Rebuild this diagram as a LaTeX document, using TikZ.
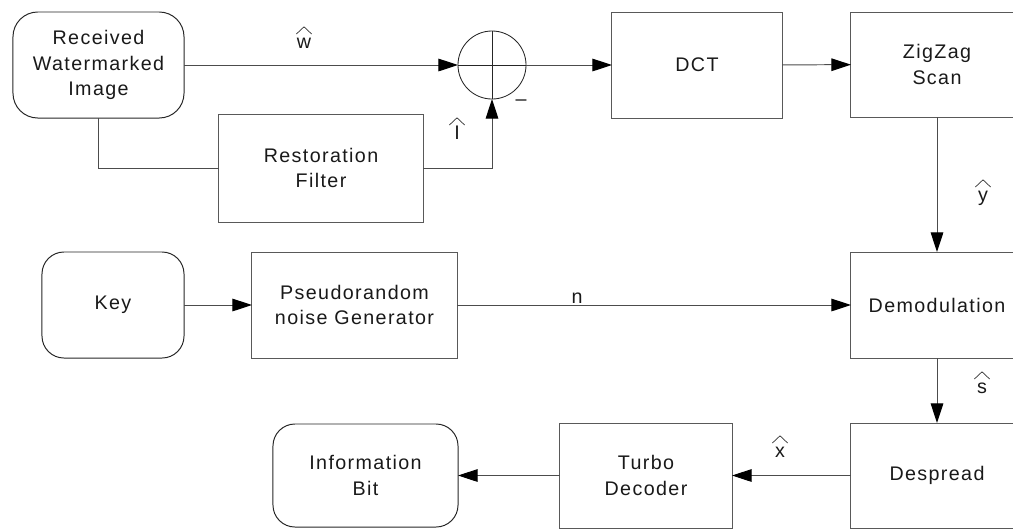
\documentclass[tikz,border=0pt]{standalone}
\usepackage{fontspec}
\setmainfont{Liberation Sans}[LetterSpace=7]
\usetikzlibrary{arrows.meta}

\tikzset{
  blk/.style={draw=black!65, line width=0.7pt, align=center, inner sep=0pt,
              outer sep=0pt, minimum height=2.65cm, text=black!90,
              font=\fontsize{14}{18.4}\selectfont},
  term/.style={blk, draw=black!85, rounded corners=0.55cm},
  sumnode/.style={circle, draw=black!85, line width=0.6pt, minimum size=1.7cm,
                  inner sep=0pt, outer sep=0pt},
  conn/.style={draw=black!70, line width=0.7pt},
  arr/.style={conn, -{Triangle[length=14pt,width=9pt,black]}},
  sym/.style={font=\fontsize{14}{16}\selectfont, text=black!90, inner sep=0pt,
              anchor=base},
  hatline/.style={draw=black!80, line width=0.5pt},
}

% caret drawn above a label letter
\newcommand\hatover[1]{%
  \draw[hatline] ([shift={(-0.19cm,0.35cm)}]#1.base)
    -- ([shift={(0cm,0.53cm)}]#1.base)
    -- ([shift={(0.19cm,0.35cm)}]#1.base);}

\begin{document}
\begin{tikzpicture}[x=0.025cm, y=-0.025cm]
\useasboundingbox (0,0) rectangle (1013,529);
\clip (0,0) rectangle (1013,529);

% blocks
\node[term, minimum width=4.275cm, rounded corners=0.62cm] (rwi) at (98.5,65) {Received\\Watermarked\\Image};
\node[blk, minimum width=5.1cm, minimum height=2.7cm] (rest) at (321,168) {Restoration\\Filter};
\node[sumnode] (sum) at (492,65) {};
\node[blk, minimum width=4.25cm] (dct) at (697,65) {DCT};
\node[blk, minimum width=4.3cm, minimum height=2.625cm] (zz) at (937,64.5) {ZigZag\\Scan};
\node[term, minimum width=3.55cm] (key) at (113,305) {Key};
\node[blk, minimum width=5.125cm] (prn) at (354.5,305) {Pseudorandom\\noise Generator};
\node[blk, minimum width=4.3cm] (dem) at (937,305) {Demodulation};
\node[blk, minimum width=4.3cm, minimum height=2.625cm] (desp) at (937,475.5) {Despread};
\node[blk, minimum width=4.3cm, minimum height=2.625cm] (turbo) at (646,475.5) {Turbo\\Decoder};
\node[term, minimum width=4.625cm, minimum height=2.575cm] (info) at (365.5,475.5) {Information\\Bit};

% cross inside the summing junction
\draw[draw=black!85, line width=0.6pt] (sum.north) -- (sum.south);
\draw[draw=black!85, line width=0.6pt] (sum.west) -- (sum.east);

% signal flow
\draw[arr] (rwi.east) -- (sum.west);
\draw[conn] (rwi.south) |- (rest.west);
\draw[arr] (rest.east) -| (sum.south);
\draw[arr] (sum.east) -- (dct.west);
\draw[arr] (dct) -- (zz);
\draw[arr] (zz) -- (dem);
\draw[arr] (key) -- (prn);
\draw[arr] (prn) -- (dem);
\draw[arr] (dem) -- (desp);
\draw[arr] (desp) -- (turbo);
\draw[arr] (turbo) -- (info);

% signal labels
\node[sym] (lw) at (304,48) {w};
\node[sym] (li) at (457,139) {I};
\node[sym] (ly) at (983,201) {y};
\node[sym] (ls) at (982,393) {s};
\node[sym] (lx) at (780,457) {x};
\node[sym] (ln) at (577,303) {n};
\node[sym, anchor=center] (minus) at (521,103) {–};
\hatover{lw}
\hatover{li}
\hatover{ly}
\hatover{ls}
\hatover{lx}
\end{tikzpicture}
\end{document}
